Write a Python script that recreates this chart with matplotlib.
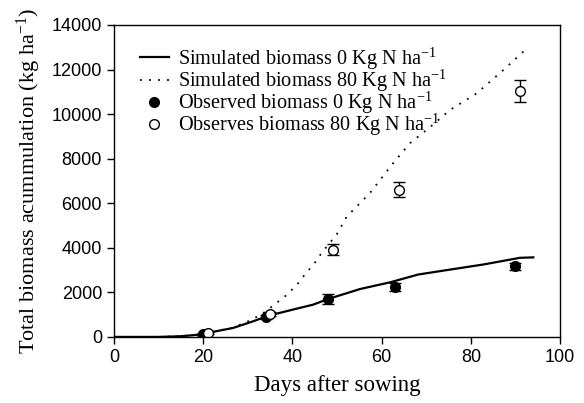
import matplotlib
matplotlib.use("Agg")
import matplotlib.pyplot as plt

plt.rcParams['mathtext.fontset'] = 'custom'
plt.rcParams['mathtext.rm'] = 'Liberation Serif'
plt.rcParams['mathtext.it'] = 'Liberation Serif:italic'

# simulated curves
sim_days_0 = [0, 10, 15, 19, 21.5, 26.7, 31.2, 34.2, 37.2, 40, 44.7, 48, 52, 55.2, 61.9, 68.2, 75.3, 82.8, 91, 94]
sim_bio_0 = [0, 0, 30, 100, 200, 400, 700, 920, 1080, 1220, 1450, 1700, 1950, 2150, 2450, 2800, 3020, 3250, 3550, 3570]

sim_days_80 = [0, 10, 15, 19, 21.5, 26.7, 30, 33, 35.6, 38.3, 41, 43.2, 44.7, 46.5, 50, 52.2, 57.4,
               62.6, 66.4, 70.9, 75.3, 81.3, 87.3, 91.7, 92.8]
sim_bio_80 = [0, 0, 30, 100, 200, 420, 690, 1000, 1390, 1810, 2330, 2900, 3230, 3750, 4620, 5400, 6460,
              7800, 8700, 9420, 10180, 10930, 11980, 12790, 12830]

# observed points
obs_days_0 = [20, 34, 48, 63, 90]
obs_bio_0 = [120, 900, 1700, 2240, 3170]
obs_err_0 = [60, 100, 220, 200, 150]

obs_days_80 = [21, 35, 49, 64, 91]
obs_bio_80 = [180, 1020, 3920, 6600, 11020]
obs_err_80 = [60, 100, 240, 340, 490]

fig = plt.figure(figsize=(5.84, 4.03), dpi=100)
ax = fig.add_axes([0.195, 0.164, 0.764, 0.774])

ax.plot(sim_days_0, sim_bio_0, color='black', linewidth=1.6,
        label='Simulated biomass 0 Kg N ha$^{-1}$')
ax.plot(sim_days_80, sim_bio_80, color='black', linewidth=1.3, linestyle=(0, (1, 4)),
        label='Simulated biomass 80 Kg N ha$^{-1}$')
ax.errorbar(obs_days_0, obs_bio_0, yerr=obs_err_0, fmt='o', color='black', markersize=7,
            capsize=4, elinewidth=1, capthick=1, label='Observed biomass 0 Kg N ha$^{-1}$')
ax.errorbar(obs_days_80, obs_bio_80, yerr=obs_err_80, fmt='o', color='black', mfc='white',
            markersize=7, capsize=4, elinewidth=1, capthick=1,
            label='Observes biomass 80 Kg N ha$^{-1}$')

ax.set_xlim(0, 100)
ax.set_ylim(0, 14000)
ax.set_xticks(range(0, 101, 20))
ax.set_yticks(range(0, 14001, 2000))
ax.tick_params(direction='out', length=5, width=1, top=False, right=False,
               labelsize=13)
for lab in ax.get_xticklabels() + ax.get_yticklabels():
    lab.set_fontfamily('Liberation Sans')
for sp in ax.spines.values():
    sp.set_linewidth(1)

ax.set_xlabel('Days after sowing', fontsize=16.5, family='Liberation Serif', labelpad=7)
ax.set_ylabel('Total biomass acummulation (kg ha$^{-1}$)', fontsize=16,
              family='Liberation Serif', labelpad=6)

# legend: plain markers for the observed series
handles, labels = ax.get_legend_handles_labels()
handles = [h.lines[0] if hasattr(h, 'lines') else h for h in handles]
ax.legend(handles, labels, loc='upper left', bbox_to_anchor=(0.058, 0.934), frameon=False,
          prop={'family': 'Liberation Serif', 'size': 14.6}, handlelength=1.45,
          handletextpad=0.45, labelspacing=-0.2, borderaxespad=0, borderpad=0)

fig.savefig('out.png', dpi=100)
